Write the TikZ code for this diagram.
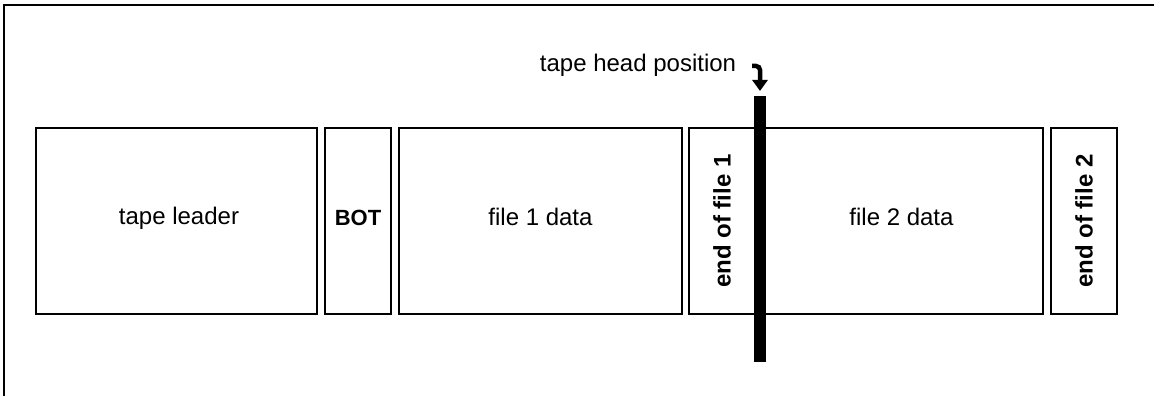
\documentclass[tikz,border=0pt]{standalone}
\usepackage{fontspec}
\setmainfont{Liberation Sans}
\usetikzlibrary{arrows.meta}
\begin{document}
\begin{tikzpicture}[x=1pt,y=-1pt,
  box/.style={draw, line width=1.5pt, minimum height=186pt, inner sep=0pt},
  vbox/.style={draw, line width=1.5pt, minimum width=186pt, minimum height=66pt, inner sep=0pt, rotate=90, font=\fontsize{24}{28}\selectfont\bfseries},
  lbl/.style={font=\fontsize{24}{28}\selectfont, anchor=base, inner sep=0pt},
  headbar/.style={fill=black, draw=none, minimum width=12pt, minimum height=266pt, inner sep=0pt, anchor=north},
  headarrow/.style={line width=4.5pt, rounded corners=4pt, -{Triangle[width=15pt,length=11pt]}, shorten >=5pt}
]
\useasboundingbox (0,0) rectangle (1154,396);
% frame (top and left edges only)
\draw[line width=1.4pt] (4,396) -- (4,5) -- (1154,5);
% tape segments
\node[box, minimum width=281pt] (leader) at (176.5,221) {};
\node[box, minimum width=66pt] (botbox) at (358,221) {};
\node[box, minimum width=283pt] (file1) at (540.5,221) {};
\node[vbox] (eof1) at (722,221) {end of file 1};
\node[box, minimum width=283pt] (file2) at (901.5,221) {};
\node[vbox] (eof2) at (1084,221) {end of file 2};
% horizontal labels
\node[lbl] (tl) at (179,224) {tape leader};
\node[lbl, font=\fontsize{22}{26}\selectfont\bfseries] (bot) at (358,225) {BOT};
\node[lbl] (f1) at (540.5,225) {file 1 data};
\node[lbl] (f2) at (901.5,225) {file 2 data};
% tape head
\node[headbar] (head) at (760,96) {};
\node[lbl] (headlbl) at (638,72) {tape head position};
\coordinate (hs) at (752,66);
\draw[headarrow] (hs) -| (head.north);
\end{tikzpicture}
\end{document}
